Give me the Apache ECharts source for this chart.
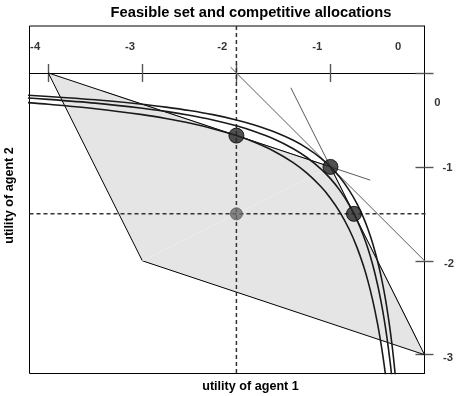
<!DOCTYPE html>
<html><head><meta charset="utf-8">
<script src="https://cdn.jsdelivr.net/npm/echarts@6/dist/echarts.min.js"></script>
<style>html,body{margin:0;padding:0;background:#fff}#c{width:462px;height:396px}</style>
</head><body><div id="c"></div>
<script>
// ---- data ----
const xTicks = [-4, -3, -2, -1];
const yTicks = [0, -1, -2, -3];
const xTickLabels = ['-4', '-3', '-2', '-1', '0'];
const yTickLabels = ['0', '-1', '-2', '-3'];
const feasibleX = [-4, -1, 0, -3];
const feasibleY = [0, -1, -3, -2];
const curveX = [-4.3, -4, -3.5, -3, -2.75, -2.5, -2.25, -2, -1.8, -1.6, -1.4, -1.25, -1.1, -1, -0.9, -0.8, -0.72, -0.65, -0.6, -0.55, -0.5, -0.46, -0.43, -0.4, -0.37, -0.35, -0.33, -0.31, -0.3];
const curveOuter = [-0.233, -0.25, -0.286, -0.333, -0.364, -0.4, -0.444, -0.5, -0.556, -0.625, -0.714, -0.8, -0.909, -1, -1.111, -1.25, -1.389, -1.538, -1.667, -1.818, -2, -2.174, -2.326, -2.5, -2.703, -2.857, -3.03, -3.226, -3.333];
const curveMiddle = [-0.262, -0.281, -0.321, -0.375, -0.409, -0.45, -0.5, -0.5625, -0.625, -0.703, -0.804, -0.9, -1.023, -1.125, -1.25, -1.406, -1.5625, -1.731, -1.875, -2.045, -2.25, -2.446, -2.616, -2.8125, -3.041, -3.214, -3.409, -3.629, -3.75];
const curveInner = [-0.31, -0.333, -0.381, -0.444, -0.485, -0.533, -0.593, -0.667, -0.741, -0.833, -0.952, -1.067, -1.212, -1.333, -1.481, -1.667, -1.852, -2.051, -2.222, -2.424, -2.667, -2.899, -3.101, -3.333, -3.6, -3.81, -4.04, -4.3, -4.44];
const allocX = [-2, -1, -0.75];
const allocY = [-0.667, -1, -1.5];
const refX = [-2];
const refY = [-1.5];
const supportA = [[-2.061, 0.061], [0.061, -2.061]];
const supportB = [[-1.421, -0.158], [-0.079, -2.842]];
const supportC = [[-3.423, -0.193], [-0.577, -1.141]];
const seam = [[-3, -2], [-1, -1]];
const dashH = [[-4.2, -1.5], [0.4, -1.5]];
const dashV = [[-2, 0.5], [-2, -3.2]];

// ---- layout (label placement) ----
const xLabelPosX = [-4.14, -3.13, -2.15, -1.14, -0.28];
const xLabelPosY = 0.277;
const yLabelPosX = [0.138, 0.245, 0.261, 0.25];
const yLabelPosY = [-0.319, -1.011, -2.032, -3.032];

const FONT = '"Liberation Sans", Arial, sans-serif';
const chart = echarts.init(document.getElementById('c'), null, {renderer: 'canvas'});

const tickStyle = {color: '#555', width: 1.4};
const baseX = {type: 'value', min: -4.2, max: 0, splitLine: {show: false}, axisLabel: {show: false}};
const baseY = {type: 'value', min: -3.2, max: 0.5, splitLine: {show: false}, axisLabel: {show: false}};

function seg(pts, color, width, type, z, clip) {
  return {type: 'line', data: pts, symbol: 'none', silent: true, clip: clip !== false, z: z,
    lineStyle: {color: color, width: width, type: type || 'solid'}, animation: false};
}

const labelData = xTickLabels.map((t, i) => [xLabelPosX[i], xLabelPosY, t])
  .concat(yTickLabels.map((t, i) => [yLabelPosX[i], yLabelPosY[i], t]));

const option = {
  animation: false,
  backgroundColor: '#fff',
  grid: {left: 29.5, top: 26, width: 395, height: 347.5, show: true, borderColor: '#000', borderWidth: 1, backgroundColor: 'transparent'},
  xAxis: [
    Object.assign({}, baseX, {position: 'top', axisLine: {onZero: true, lineStyle: {color: '#000', width: 1}},
      axisTick: {show: true, length: 9, customValues: xTicks, lineStyle: tickStyle}}),
    Object.assign({}, baseX, {position: 'bottom', axisLine: {onZero: true, show: false},
      axisTick: {show: true, length: 9, customValues: xTicks, lineStyle: tickStyle}})
  ],
  yAxis: [
    Object.assign({}, baseY, {position: 'right', axisLine: {onZero: false, lineStyle: {color: '#000', width: 1}},
      axisTick: {show: true, length: 9, customValues: yTicks, lineStyle: tickStyle}}),
    Object.assign({}, baseY, {position: 'left', axisLine: {onZero: true, show: false},
      axisTick: {show: true, length: 9, customValues: yTicks, lineStyle: tickStyle}})
  ],
  graphic: [
    {type: 'text', x: 251, y: 12.5, style: {text: 'Feasible set and competitive allocations', font: 'bold 14.7px ' + FONT, fill: '#000', align: 'center', verticalAlign: 'middle'}},
    {type: 'text', x: 250.5, y: 386.5, style: {text: 'utility of agent 1', font: 'bold 12.6px ' + FONT, fill: '#000', align: 'center', verticalAlign: 'middle'}},
    {type: 'text', x: 10, y: 195.5, rotation: Math.PI / 2, style: {text: 'utility of agent 2', font: 'bold 12.6px ' + FONT, fill: '#000', align: 'center', verticalAlign: 'middle'}}
  ],
  series: [
    seg(supportA, '#5a5a5a', 1, 'solid', 1, false),
    seg(supportB, '#5a5a5a', 1, 'solid', 1, false),
    seg(supportC, '#5a5a5a', 1, 'solid', 1, false),
    {
      type: 'custom', z: 2, silent: true, data: feasibleX.map((x, i) => [x, feasibleY[i]]),
      renderItem: function (params, api) {
        if (params.dataIndex !== 0) return null;
        const pts = feasibleX.map((x, i) => api.coord([x, feasibleY[i]]));
        return {type: 'polygon', shape: {points: pts}, style: {fill: '#e5e5e5', stroke: '#000', lineWidth: 1}};
      }
    },
    seg(seam, '#ececec', 1, 'solid', 3),
    seg(dashV, '#333', 1.5, [4, 3], 4),
    seg(dashH, '#333', 1.5, [4, 3], 4, false),
    Object.assign(seg(curveX.map((x, i) => [x, curveOuter[i]]), '#1a1a1a', 1.6, 'solid', 5), {smooth: 0.3}),
    Object.assign(seg(curveX.map((x, i) => [x, curveMiddle[i]]), '#1a1a1a', 1.6, 'solid', 5), {smooth: 0.3}),
    Object.assign(seg(curveX.map((x, i) => [x, curveInner[i]]), '#1a1a1a', 1.6, 'solid', 5), {smooth: 0.3}),
    {type: 'scatter', z: 6, silent: true, data: refX.map((x, i) => [x, refY[i]]), symbolSize: 12,
      itemStyle: {color: '#6a6a6a', borderColor: '#555', borderWidth: 1}},
    {type: 'scatter', z: 6, silent: true, data: allocX.map((x, i) => [x, allocY[i]]), symbolSize: 15,
      itemStyle: {color: '#262626', borderColor: '#000', borderWidth: 1}},
    {type: 'scatter', z: 7, silent: true, clip: false, data: labelData, symbolSize: 1,
      itemStyle: {color: 'rgba(0,0,0,0)'},
      label: {show: true, position: 'inside', formatter: p => p.value[2], color: '#000', fontWeight: 'bold', fontSize: 11.3, fontFamily: FONT}}
  ]
};
chart.setOption(option);
</script></body></html>
